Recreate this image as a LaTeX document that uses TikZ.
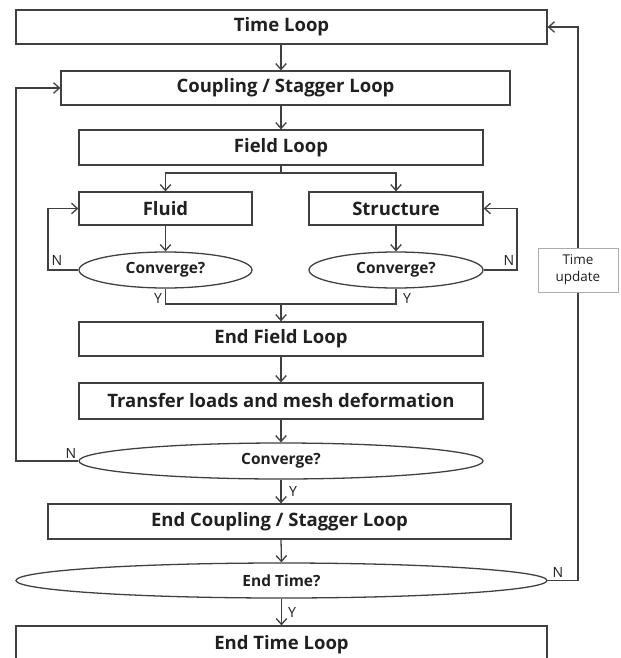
\documentclass[tikz,border=0pt]{standalone}
\usepackage{fontspec}
\setmainfont{Open Sans}[BoldFont={Open Sans Bold}]
\usetikzlibrary{arrows.meta,shapes.geometric}
\definecolor{ln}{HTML}{404040}
\definecolor{tx}{HTML}{202020}
\begin{document}
\begin{tikzpicture}[x=0.03cm,y=-0.03cm,
  box/.style={draw=ln,line width=1.1pt,rectangle,minimum height=1.02cm,font=\fontsize{15.8}{19}\selectfont\bfseries,text=tx,inner sep=0pt},
  oval/.style={draw=ln,line width=1.1pt,ellipse,minimum height=1.08cm,font=\fontsize{13.2}{16}\selectfont\bfseries,text=tx,inner sep=0pt},
  lab/.style={font=\fontsize{12}{14}\selectfont,text=tx,inner sep=0pt},
  conn/.style={draw=ln,line width=1.1pt},
  arr/.style={conn,-{Straight Barb[length=5pt,width=9pt]}},
]
\useasboundingbox (0,0) rectangle (621,658);
\clip (0,0) rectangle (621,658);
\fill[white] (0,0) rectangle (621,658);

\node[box,minimum width=15.93cm] (tl) at (281.5,27) {Time Loop};
\node[box,minimum width=13.47cm] (cp) at (285.5,88) {Coupling / Stagger Loop};
\node[box,minimum width=12.12cm,minimum height=1.05cm] (fl) at (281,147.5) {Field Loop};
\node[box,minimum width=5.19cm,minimum height=0.99cm] (fd) at (165.5,208.5) {Fluid};
\node[box,minimum width=5.22cm,minimum height=0.99cm] (st) at (396,208.5) {Structure};
\node[oval,minimum width=5.19cm] (fc) at (165.5,270) {Converge?};
\node[oval,minimum width=5.22cm] (sc) at (396,270) {Converge?};
\node[box,minimum width=12.12cm] (ef) at (281,339) {End Field Loop};
\node[box,minimum width=12.12cm,minimum height=1.08cm] (tr) at (281,401) {Transfer loads and mesh deformation};
\node[oval,minimum width=12.12cm] (cv) at (281,461) {Converge?};
\node[box,minimum width=13.89cm,minimum height=1.05cm] (ec) at (279.5,521.5) {End Coupling / Stagger Loop};
\node[oval,minimum width=15.93cm,minimum height=1.05cm] (et) at (281.5,580.5) {End Time?};
\node[box,minimum width=15.93cm,minimum height=1.14cm] (etl) at (281.5,645) {End Time Loop};

\coordinate (sp) at (281,0);
\coordinate (sy) at (0,173);
\coordinate (my) at (0,304);
\coordinate (flx) at (48,0);
\coordinate (srx) at (517,0);
\coordinate (blx) at (16,0);
\coordinate (rx) at (578,0);

\draw[arr] (tl.south -| sp) -- (cp.north -| sp);
\draw[arr] (cp.south -| sp) -- (fl.north);
\draw[arr] (fl.south) -- (fl.south |- sy) -| (fd.north);
\draw[arr] (fl.south |- sy) -| (st.north);
\draw[arr] (fd.south) -- (fc.north);
\draw[arr] (st.south) -- (sc.north);
\draw[arr] (fc.west) -- (fc.west -| flx) |- (fd.west);
\draw[arr] (sc.east) -- (sc.east -| srx) |- (st.east);
\draw[conn] (fc.south) |- (sc.south |- my) -- (sc.south);
\draw[arr] (sp |- my) -- (ef.north);
\draw[arr] (ef.south) -- (tr.north);
\draw[arr] (tr.south) -- (cv.north);
\draw[arr] (cv.west) -- (cv.west -| blx) |- (cp.west);
\draw[arr] (cv.south) -- (cv.south |- ec.north);
\draw[arr] (ec.south -| sp) -- (et.north);
\draw[arr] (et.south) -- (et.south |- etl.north);
\draw[arr] (et.east) -- (et.east -| rx) |- (tl.east);

\node[draw=gray!65,line width=0.8pt,fill=white,align=center,inner sep=0pt,minimum width=2.4cm,minimum height=1.32cm,font=\fontsize{11.5}{14.5}\selectfont,text=tx] (tu) at (578,270) {Time\\update};

\node[lab] (n1) at (57,260) {N};
\node[lab] (n2) at (509,260) {N};
\node[lab] (y1) at (158,298) {Y};
\node[lab] (y2) at (407,298) {Y};
\node[lab] (n3) at (71,453) {N};
\node[lab] (y3) at (293,491) {Y};
\node[lab] (n4) at (558,572) {N};
\node[lab] (y4) at (292,612) {Y};
\end{tikzpicture}
\end{document}
